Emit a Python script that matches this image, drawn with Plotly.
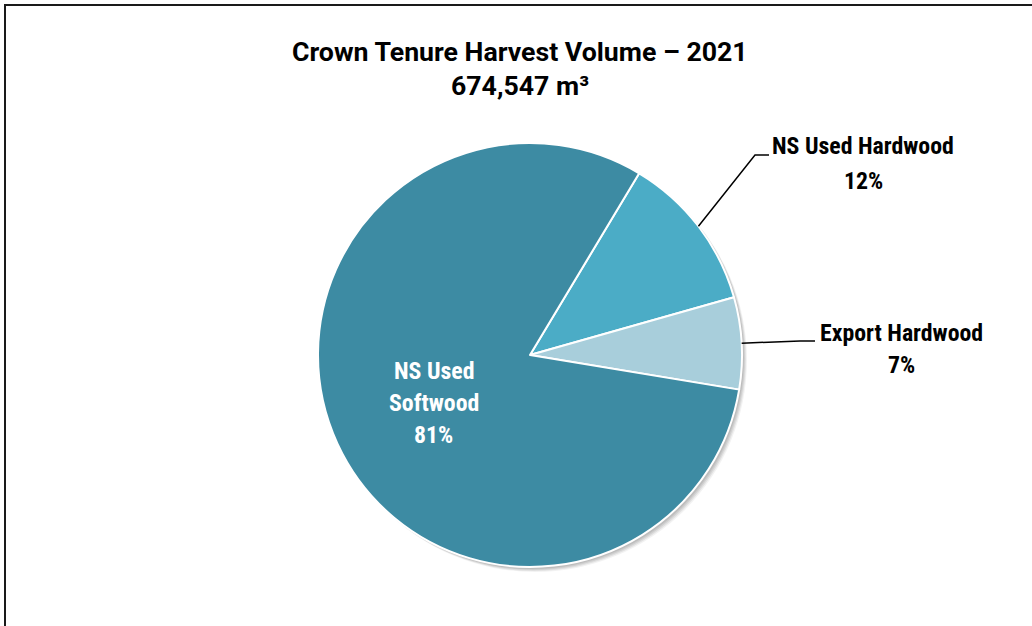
import math
import plotly.graph_objects as go

# Crown tenure harvest volume, 2021 (share of 674,547 m3)
categories = ["NS Used Hardwood", "Export Hardwood", "NS Used Softwood"]
shares = [12, 7, 81]
colors = ["#4BACC6", "#A8CEDB", "#3D8BA3"]
title_lines = ["Crown Tenure Harvest Volume \u2013 2021", "674,547 m\u00b3"]

W, H = 1032, 626
CX, CY, R = 530, 355, 212          # pie centre / radius in pixels
ROTATION = 31                       # start angle of the first slice, clockwise from 12 o'clock

LABEL_FONT = "Liberation Sans Narrow, Roboto Condensed, Roboto, sans-serif"
TITLE_FONT = "Roboto, sans-serif"


def px(x, y):
    """Pixel position -> paper coordinates."""
    return x / W, 1 - y / H


def mid_angle(i):
    total = sum(shares)
    before = sum(shares[:i])
    return math.radians(ROTATION + 360 * (before + shares[i] / 2) / total)


def on_radius(i, frac):
    a = mid_angle(i)
    return CX + frac * R * math.sin(a), CY - frac * R * math.cos(a)


fig = go.Figure(
    go.Pie(
        labels=categories,
        values=shares,
        sort=False,
        direction="clockwise",
        rotation=ROTATION,
        marker=dict(colors=colors, line=dict(color="white", width=2)),
        textinfo="none",
        hoverinfo="label+percent",
        showlegend=False,
        domain=dict(x=[(CX - R) / W, (CX + R) / W],
                    y=[1 - (CY + R) / H, 1 - (CY - R) / H]),
    )
)

shapes = []
# soft drop shadow under the pie
for off, op in [(5, 0.05), (4, 0.07), (3, 0.08), (2, 0.08)]:
    x0, y0 = px(CX - R + off, CY + R + off)
    x1, y1 = px(CX + R + off, CY - R + off)
    shapes.append(dict(type="circle", xref="paper", yref="paper", layer="below",
                       x0=x0, y0=y0, x1=x1, y1=y1,
                       fillcolor=f"rgba(0,0,0,{op})", line=dict(width=0)))

# outer frame
fx0, fy0 = px(5, 5)
shapes.append(dict(type="path", xref="paper", yref="paper",
                   path=f"M {fx0},-0.1 L {fx0},{fy0} L 1.1,{fy0}",
                   line=dict(color="#1a1a1a", width=2)))


def leader(i, elbow, end):
    sx, sy = on_radius(i, 1.0)
    p = [px(sx, sy), px(*elbow), px(*end)]
    path = "M " + " L ".join(f"{a},{b}" for a, b in p)
    return dict(type="path", xref="paper", yref="paper", path=path,
                line=dict(color="black", width=1.5))


shapes.append(leader(0, (755, 155), (769, 155)))
shapes.append(leader(1, (800, 341), (815, 341)))

annotations = []


def text(x, y, s, size, color="black", family=LABEL_FONT):
    ax, ay = px(x, y)
    annotations.append(dict(x=ax, y=ay, xref="paper", yref="paper", text=f"<b>{s}</b>",
                            showarrow=False, xanchor="center", yanchor="middle",
                            font=dict(family=family, size=size, color=color)))


# title
text(520, 52, title_lines[0], 26.7, family=TITLE_FONT)
text(520, 86, title_lines[1], 26.7, family=TITLE_FONT)

# outside labels
text(863, 146, categories[0], 23.8)
text(863, 181, f"{shares[0]}%", 23.8)
text(901, 333, categories[1], 23.8)
text(901, 365, f"{shares[1]}%", 23.8)

# inside label for the large slice
lx, ly = on_radius(2, 0.5)
ly += 4
text(lx, ly - 32, "NS Used", 23.8, color="white")
text(lx, ly, "Softwood", 23.8, color="white")
text(lx, ly + 32, f"{shares[2]}%", 23.8, color="white")

fig.update_layout(
    width=W, height=H,
    margin=dict(l=0, r=0, t=0, b=0),
    paper_bgcolor="white",
    plot_bgcolor="white",
    shapes=shapes,
    annotations=annotations,
)

fig.write_html("out.html")
